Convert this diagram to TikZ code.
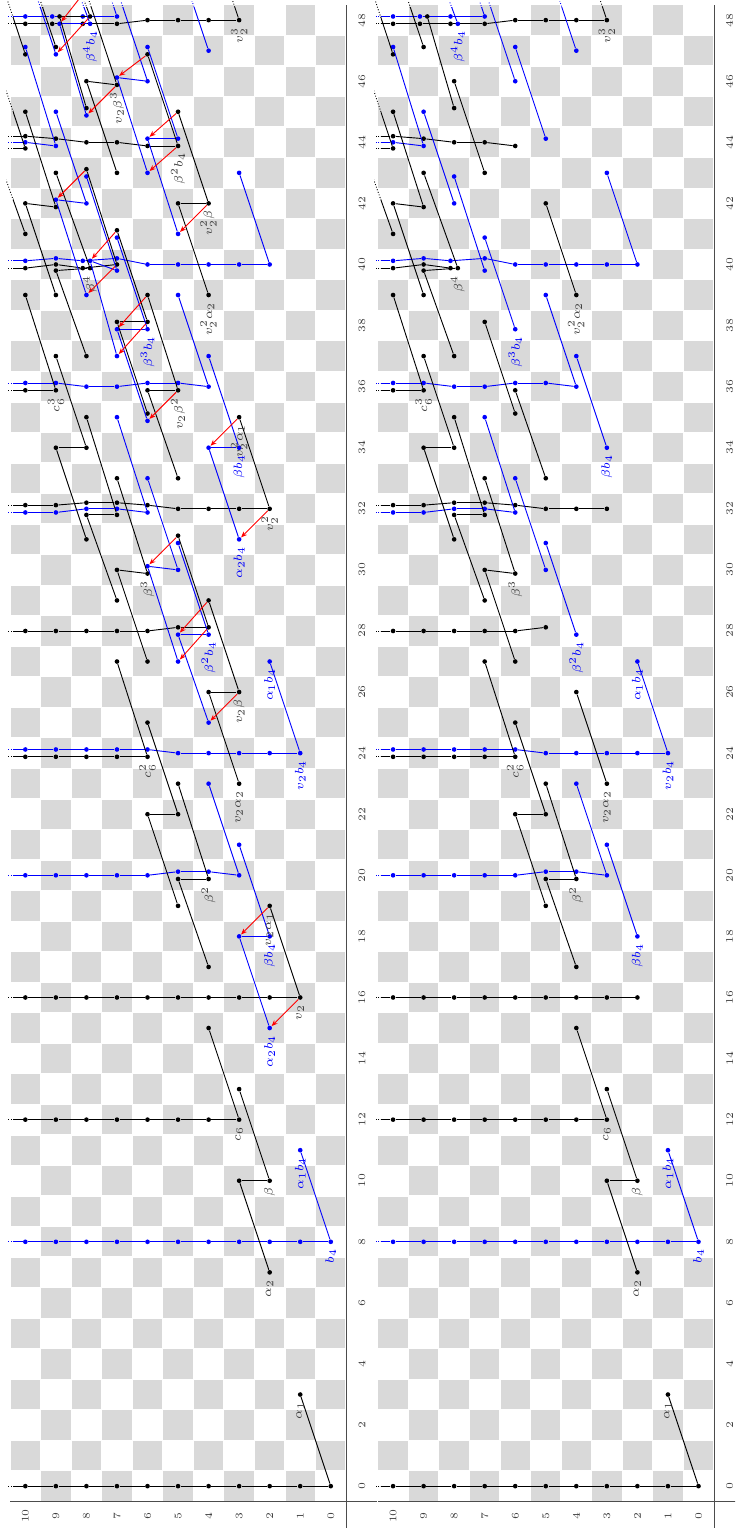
\documentclass[tikz,border=0pt]{standalone}
\usetikzlibrary{arrows.meta,calc}
\definecolor{cellgrey}{RGB}{217,217,217}
\newif\ifetwo
\newcommand\onlyE[1]{\ifetwo#1\fi}
\tikzset{
  bdot/.style={circle,fill=black,draw=none,inner sep=0pt,minimum size=2.3pt},
  ldot/.style={circle,fill=blue,draw=none,inner sep=0pt,minimum size=2.3pt},
  bl/.style={draw=black,line width=0.45pt},
  ll/.style={draw=blue,line width=0.45pt},
  dl/.style={draw=red,line width=0.45pt,-{Stealth[length=3pt,width=2.4pt]}},
  blab/.style={text=black!75,font=\fontsize{6}{7}\selectfont,anchor=east,inner sep=0.3pt},
  llab/.style={text=blue,font=\fontsize{6}{7}\selectfont,anchor=east,inner sep=0.3pt},
  num/.style={text=black!75,font=\fontsize{5}{6}\selectfont,inner sep=0pt},
  axisline/.style={draw=black!70,line width=0.6pt},
  dotx/.style={dash pattern=on 0.45pt off 0.9pt}
}
\newcommand\Cls[5][0]{\node[#2dot] (#2-#3-#4) at ({#3+(#5)},{#4+(#1)}) {};}
\newcommand\Offl[3]{%
  \begin{scope}\clip (-0.6,-0.6) rectangle (48.4,10.4);\draw[#1] (#2) -- (#3);\end{scope}%
  \begin{scope}\clip (-0.6,10.4) rectangle (48.62,10.62) (48.4,-0.6) rectangle (48.62,10.62);\draw[#1,dotx] (#2) -- (#3);\end{scope}}
\newcommand\Tow[5]{%
  \ifetwo\def\tstart{#3}\else\def\tstart{#4}\fi
  \foreach \f in {0,...,10}{\ifnum\f<\tstart\relax\else
    \gdef\tds{0}\gdef\tdf{0}%
    \foreach \ff/\dd/\ee in {#5}{\ifnum\ff=\f\relax\xdef\tds{\dd}\xdef\tdf{\ee}\fi}%
    \node[#1dot] (#1T-#2-\f) at ({#2+(\tds)},{\f+(\tdf)}) {};\fi}%
  \foreach \f in {0,...,9}{\ifnum\f<\tstart\relax\else
    \pgfmathtruncatemacro\tnext{\f+1}\draw[#1l] (#1T-#2-\f) -- (#1T-#2-\tnext);\fi}%
  \Offl{#1l}{#1T-#2-10}{$(#1T-#2-10)+(0,2)$}}
\newcommand\Lb[2]{\draw[bl] (#1) -- (#2);}
\newcommand\Ll[2]{\draw[ll] (#1) -- (#2);}
\newcommand\Dd[2]{\draw[dl] (#1) -- (#2);}
\newcommand\Lab[3]{\node[#1lab] at ($(#2)+(-0.2,0)$) {$#3$};}

\newcommand\drawchart{%
  % checkerboard
  \foreach \s in {0,...,48}{\foreach \f in {0,...,10}{%
    \pgfmathtruncatemacro\cpar{mod(\s+\f,2)}%
    \ifnum\cpar=1 \fill[cellgrey] ({\s-0.48},{\f-0.48}) rectangle ({\s+0.48},{\f+0.48});\fi}}
  % axes
  \draw[axisline] (-1.4,-0.52) -- (48.5,-0.52);
  \draw[axisline] (-0.5,-1.5) -- (-0.5,10.5);
  \foreach \s in {0,2,...,48}{\node[num] at (\s,-1.02) {\s};}
  \foreach \f in {0,...,10}{\node[num] at (-0.98,\f) {\f};}
  % ---------- black towers
  \Tow{b}{0}{0}{0}{99/0/0}
  \Tow{b}{12}{3}{3}{99/0/0}
  \Tow{b}{16}{1}{2}{99/0/0}
  \Tow{b}{24}{6}{6}{6/-0.12/0,7/-0.12/0,8/-0.12/0,9/-0.12/0,10/-0.12/0}
  \Tow{b}{28}{4}{5}{4/0.12/0,5/0.12/0}
  \Tow{b}{32}{2}{3}{6/0.12/0,7/0.2/0,8/0.2/0,9/0.12/0,10/0.12/0}
  \Tow{b}{36}{9}{9}{9/-0.12/0,10/-0.12/0}
  \Tow{b}{40}{7}{8}{8/-0.12/0.12,10/-0.12/0}
  \Tow{b}{44}{5}{6}{5/-0.12/0,6/-0.12/0,9/0.12/0,10/0.2/0}
  \Tow{b}{48}{3}{3}{7/-0.12/0,8/-0.12/0.12,9/-0.12/0.12,10/-0.12/0}
  % ---------- blue towers
  \Tow{l}{8}{0}{0}{99/0/0}
  \Tow{l}{20}{3}{3}{4/0.12/0,5/0.12/0}
  \Tow{l}{24}{1}{1}{6/0.12/0,7/0.12/0,8/0.12/0,9/0.12/0,10/0.12/0}
  \Tow{l}{32}{6}{6}{6/-0.12/0,9/-0.12/0,10/-0.12/0}
  \Tow{l}{36}{4}{4}{5/0.12/0,6/0.12/0,9/0.12/0,10/0.12/0}
  \Tow{l}{40}{2}{2}{7/0.2/0,8/0.12/0.12,9/0.2/0,10/0.12/0}
  \Tow{l}{44}{9}{9}{9/-0.12/0}
  \Tow{l}{48}{7}{7}{7/0.12/0,8/0.12/0.12,9/0.12/0.12,10/0.12/0}
  % ---------- black classes
  \Cls{b}{3}{1}{0} \Cls{b}{7}{2}{0} \Cls{b}{10}{2}{0} \Cls{b}{10}{3}{0}
  \Cls{b}{13}{3}{0} \Cls{b}{15}{4}{0} \Cls{b}{17}{4}{0}
  \onlyE{\Cls{b}{19}{2}{0}} \Cls{b}{19}{5}{0}
  \Cls{b}{20}{4}{-0.12} \Cls{b}{20}{5}{-0.12}
  \Cls{b}{22}{5}{0} \Cls{b}{22}{6}{0} \Cls{b}{23}{3}{0} \Cls{b}{23}{5}{0}
  \Cls{b}{25}{6}{0} \onlyE{\Cls{b}{26}{3}{0}} \Cls{b}{26}{4}{0}
  \Cls{b}{27}{6}{0} \Cls{b}{27}{7}{0}
  \onlyE{\Cls{b}{29}{4}{0}} \Cls{b}{29}{7}{0}
  \Cls{b}{30}{6}{-0.12} \Cls{b}{30}{7}{0}
  \onlyE{\Cls{b}{31}{5}{0.12}} \Cls{b}{31}{8}{0}
  \Cls{b}{32}{7}{-0.2} \Cls{b}{32}{8}{-0.2}
  \Cls{b}{33}{5}{0} \Cls{b}{33}{7}{0} \Cls{b}{34}{8}{0} \Cls{b}{34}{9}{0}
  \onlyE{\Cls{b}{35}{3}{0}} \Cls{b}{35}{6}{0.12} \Cls{b}{35}{8}{0}
  \onlyE{\Cls{b}{36}{5}{-0.12}} \Cls{b}{36}{6}{-0.12}
  \Cls{b}{37}{8}{0} \Cls{b}{37}{9}{0}
  \onlyE{\Cls{b}{38}{6}{0.12}} \Cls{b}{38}{7}{0.12}
  \Cls{b}{39}{4}{0} \onlyE{\Cls{b}{39}{6}{0}} \Cls{b}{39}{9}{0} \Cls{b}{39}{10}{0}
  \Cls[-0.12]{b}{40}{8}{-0.12} \Cls{b}{40}{9}{-0.2}
  \onlyE{\Cls{b}{41}{7}{0.12}} \Cls{b}{41}{10}{0}
  \onlyE{\Cls{b}{42}{4}{0}} \Cls{b}{42}{5}{0} \Cls{b}{42}{9}{-0.12} \Cls{b}{42}{10}{0}
  \Cls{b}{43}{7}{0} \onlyE{\Cls{b}{43}{8}{0.12}} \Cls{b}{43}{9}{0}
  \Cls{b}{44}{10}{-0.2}
  \onlyE{\Cls{b}{45}{5}{0}} \Cls{b}{45}{8}{0.12} \Cls{b}{45}{10}{0}
  \onlyE{\Cls{b}{46}{7}{-0.12}} \Cls{b}{46}{8}{0}
  \onlyE{\Cls{b}{47}{6}{-0.12}} \Cls{b}{47}{9}{0.12} \Cls{b}{47}{10}{-0.12}
  \onlyE{\Cls[-0.12]{b}{48}{8}{0.12}} \Cls[-0.12]{b}{48}{9}{0.12}
  % ---------- blue classes
  \Cls{l}{11}{1}{0} \onlyE{\Cls{l}{15}{2}{0}}
  \Cls{l}{18}{2}{0} \onlyE{\Cls{l}{18}{3}{0}}
  \Cls{l}{21}{3}{0} \Cls{l}{23}{4}{0} \onlyE{\Cls{l}{25}{4}{0}}
  \Cls{l}{27}{2}{0} \onlyE{\Cls{l}{27}{5}{0}}
  \Cls{l}{28}{4}{-0.12} \onlyE{\Cls{l}{28}{5}{-0.12}}
  \Cls{l}{30}{5}{0} \onlyE{\Cls{l}{30}{6}{0.12}}
  \onlyE{\Cls{l}{31}{3}{0}} \Cls{l}{31}{5}{-0.12}
  \Cls{l}{33}{6}{0}
  \Cls{l}{34}{3}{0} \onlyE{\Cls{l}{34}{4}{0}}
  \onlyE{\Cls{l}{35}{6}{-0.12}} \Cls{l}{35}{7}{0}
  \Cls{l}{37}{4}{0} \onlyE{\Cls{l}{37}{7}{0}}
  \Cls{l}{38}{6}{-0.12} \onlyE{\Cls{l}{38}{7}{-0.12}}
  \Cls{l}{39}{5}{0} \onlyE{\Cls{l}{39}{8}{0}}
  \Cls{l}{40}{7}{-0.2} \onlyE{\Cls[-0.12]{l}{40}{8}{0.12}}
  \onlyE{\Cls{l}{41}{5}{0}} \Cls{l}{41}{7}{-0.12}
  \Cls{l}{42}{8}{0} \onlyE{\Cls{l}{42}{9}{0.12}}
  \Cls{l}{43}{3}{0} \onlyE{\Cls{l}{43}{6}{0}} \Cls{l}{43}{8}{-0.12}
  \Cls{l}{44}{5}{0.12} \onlyE{\Cls{l}{44}{6}{0.12}}
  \onlyE{\Cls{l}{45}{8}{-0.12}} \Cls{l}{45}{9}{0}
  \Cls{l}{46}{6}{0} \onlyE{\Cls{l}{46}{7}{0.12}}
  \Cls{l}{47}{4}{0} \Cls{l}{47}{6}{0.12} \onlyE{\Cls{l}{47}{9}{-0.12}} \Cls{l}{47}{10}{0.12}
  \Cls[-0.12]{l}{48}{8}{-0.12} \onlyE{\Cls[-0.12]{l}{48}{9}{-0.12}}
  % ---------- black lines
  \Lb{b-10-2}{b-10-3} \Lb{b-20-4}{b-20-5} \Lb{b-22-5}{b-22-6} \Lb{b-30-6}{b-30-7}
  \Lb{b-32-7}{b-32-8} \Lb{b-34-8}{b-34-9} \Lb{b-40-8}{b-40-9} \Lb{b-42-9}{b-42-10}
  \onlyE{\Lb{b-26-3}{b-26-4} \Lb{b-36-5}{b-36-6} \Lb{b-38-6}{b-38-7} \Lb{b-42-4}{b-42-5} \Lb{b-46-7}{b-46-8} \Lb{b-48-8}{b-48-9}}
  \Offl{bl}{b-44-10}{43.8,11}
  \Lb{bT-0-0}{b-3-1} \Lb{b-10-2}{b-13-3} \Lb{b-20-4}{b-23-5} \Lb{b-30-6}{b-33-7} \Lb{b-40-8}{b-43-9}
  \Lb{bT-12-3}{b-15-4} \Lb{b-22-5}{b-25-6} \Lb{b-32-7}{b-35-8} \Lb{b-42-9}{b-45-10}
  \Lb{bT-24-6}{b-27-7} \Lb{b-34-8}{b-37-9} \Offl{bl}{b-44-10}{46.8,11}
  \Lb{bT-36-9}{b-39-10}
  \onlyE{\Lb{bT-16-1}{b-19-2} \Lb{b-26-3}{b-29-4} \Lb{b-36-5}{b-39-6} \Offl{bl}{b-46-7}{48.9,8}
    \Lb{bT-28-4}{b-31-5} \Lb{b-38-6}{b-41-7} \Offl{bl}{b-48-8}{51.1,9}
    \Lb{bT-40-7}{b-43-8} \Lb{bT-32-2}{b-35-3} \Lb{b-42-4}{b-45-5} \Lb{bT-44-5}{b-47-6}}
  \Offl{bl}{bT-48-3}{51,4}
  \Lb{b-7-2}{b-10-3} \Lb{b-17-4}{b-20-5} \Lb{b-27-6}{b-30-7} \Lb{b-37-8}{b-40-9} \Offl{bl}{b-47-10}{49.9,11}
  \Lb{b-19-5}{b-22-6} \Lb{b-29-7}{b-32-8} \Lb{b-39-9}{b-42-10}
  \Lb{b-31-8}{b-34-9} \Offl{bl}{b-41-10}{43.8,11}
  \Lb{b-23-3}{b-26-4} \Lb{b-33-5}{b-36-6} \Lb{b-43-7}{b-46-8}
  \Lb{b-35-6}{b-38-7} \Lb{b-45-8}{b-48-9} \Offl{bl}{b-47-9}{50.1,10}
  \Lb{b-39-4}{b-42-5}
  % ---------- blue lines
  \onlyE{\Ll{l-18-2}{l-18-3} \Ll{l-28-4}{l-28-5} \Ll{l-30-5}{l-30-6} \Ll{l-34-3}{l-34-4} \Ll{l-38-6}{l-38-7}
    \Ll{l-40-7}{l-40-8} \Ll{l-42-8}{l-42-9} \Ll{l-44-5}{l-44-6} \Ll{l-48-8}{l-48-9} \Ll{l-46-6}{l-46-7}}
  \Ll{lT-8-0}{l-11-1} \Ll{l-18-2}{l-21-3} \Ll{l-28-4}{l-31-5} \Ll{l-38-6}{l-41-7} \Offl{ll}{l-48-8}{50.9,9}
  \Ll{lT-20-3}{l-23-4} \Ll{l-30-5}{l-33-6} \Ll{l-40-7}{l-43-8}
  \Ll{lT-32-6}{l-35-7} \Ll{l-42-8}{l-45-9} \Ll{lT-44-9}{l-47-10}
  \Ll{lT-24-1}{l-27-2} \Ll{l-34-3}{l-37-4} \Ll{l-44-5}{l-47-6}
  \Ll{lT-36-4}{l-39-5} \Offl{ll}{l-46-6}{49,7} \Offl{ll}{lT-48-7}{51.1,8}
  \Ll{lT-40-2}{l-43-3}
  \onlyE{\Ll{l-15-2}{l-18-3} \Ll{l-25-4}{l-28-5} \Ll{l-35-6}{l-38-7} \Ll{l-45-8}{l-48-9}
    \Ll{l-27-5}{l-30-6} \Ll{l-37-7}{l-40-8} \Offl{ll}{l-47-9}{49.9,10}
    \Ll{l-39-8}{l-42-9} \Ll{l-31-3}{l-34-4} \Ll{l-41-5}{l-44-6} \Ll{l-43-6}{l-46-7}}
  \Offl{ll}{l-47-4}{50,5}
  % ---------- differentials
  \onlyE{%
    \coordinate (x-49-8) at (49,8);
    \Dd{bT-16-1}{l-15-2} \Dd{b-19-2}{l-18-3} \Dd{b-26-3}{l-25-4} \Dd{bT-28-4}{l-27-5}
    \Dd{b-29-4}{l-28-5} \Dd{b-31-5}{l-30-6} \Dd{bT-32-2}{l-31-3} \Dd{b-35-3}{l-34-4}
    \Dd{b-36-5}{l-35-6} \Dd{b-38-6}{l-37-7} \Dd{b-39-6}{l-38-7} \Dd{bT-40-7}{l-39-8}
    \Dd{b-41-7}{l-40-8} \Dd{b-42-4}{l-41-5} \Dd{b-43-8}{l-42-9} \Dd{bT-44-5}{l-43-6}
    \Dd{b-45-5}{l-44-6} \Dd{b-46-7}{l-45-8} \Dd{b-47-6}{l-46-7} \Dd{b-48-8}{l-47-9}
    \Dd{x-49-8}{l-48-9}}
  % ---------- labels
  \Lab{b}{b-3-1}{\alpha_1} \Lab{b}{b-7-2}{\alpha_2} \Lab{b}{b-10-2}{\beta}
  \Lab{b}{bT-12-3}{c_6} \Lab{b}{b-20-4}{\beta^2} \Lab{b}{b-23-3}{v_2\alpha_2}
  \Lab{b}{bT-24-6}{c_6^2} \Lab{b}{b-30-6}{\beta^3} \Lab{b}{bT-36-9}{c_6^3}
  \Lab{b}{b-39-4}{v_2^2\alpha_2} \Lab{b}{b-40-8}{\beta^4} \Lab{b}{bT-48-3}{v_2^3}
  \onlyE{\Lab{b}{bT-16-1}{v_2} \Lab{b}{b-19-2}{v_2\alpha_1} \Lab{b}{b-26-3}{v_2\beta}
    \Lab{b}{bT-32-2}{v_2^2} \Lab{b}{b-35-3}{v_2^2\alpha_1} \Lab{b}{b-36-5}{v_2\beta^2}
    \Lab{b}{b-42-4}{v_2^2\beta} \Lab{b}{b-46-7}{v_2\beta^3} \Lab{b}{bT-44-5}{\beta^2b_4}}
  \Lab{l}{lT-8-0}{b_4} \Lab{l}{l-11-1}{\alpha_1b_4} \Lab{l}{l-18-2}{\beta b_4}
  \Lab{l}{lT-24-1}{v_2b_4} \Lab{l}{l-27-2}{\alpha_1b_4} \Lab{l}{l-28-4}{\beta^2b_4}
  \Lab{l}{l-34-3}{\beta b_4} \Lab{l}{l-38-6}{\beta^3b_4} \Lab{l}{l-48-8}{\beta^4b_4}
  \onlyE{\Lab{l}{l-15-2}{\alpha_2b_4} \Lab{l}{l-31-3}{\alpha_2b_4}}
}

\begin{document}
\begin{tikzpicture}[x=0.53cm,y=0.53cm,rotate=90,transform shape]
\useasboundingbox (-1.37,-13.24) rectangle (48.66,10.83);
\clip (-1.37,-13.24) rectangle (48.66,10.83);
\etwotrue
\drawchart
\etwofalse
\begin{scope}[shift={(0,-12.04)}]
\drawchart
\end{scope}
\end{tikzpicture}
\end{document}
